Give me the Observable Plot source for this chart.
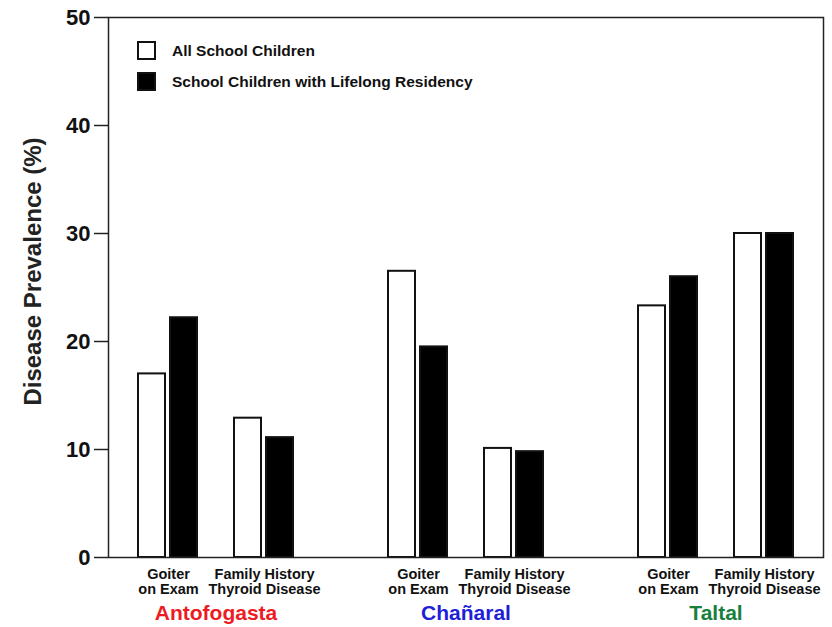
<!DOCTYPE html>
<html>
<head>
<meta charset="utf-8">
<script src="https://cdn.jsdelivr.net/npm/d3@7"></script>
<script src="https://cdn.jsdelivr.net/npm/@observablehq/plot@0.6"></script>
<style>
  html, body { margin: 0; padding: 0; background: #fff; }
  #wrap { position: relative; width: 832px; height: 627px; font-family: "Liberation Sans", Arial, sans-serif; }
  .legend { position: absolute; left: 137px; font-size: 15.5px; font-weight: bold; color: #111; }
  .legend .row { position: absolute; left: 0; height: 19px; white-space: nowrap; }
  .legend .box { position: absolute; left: 0; top: 0; width: 15px; height: 15px; border: 2px solid #111; }
  .legend .lab { position: absolute; left: 35px; top: 0; line-height: 19px; }
</style>
</head>
<body>
<div id="wrap"></div>
<script>
const regions = ["Antofogasta", "Chañaral", "Taltal"];
const regionColors = ["#ec1c24", "#1f1fd8", "#17803d"];
const measures = ["Goiter\non Exam", "Family History\nThyroid Disease"];
const seriesNames = ["All School Children", "School Children with Lifelong Residency"];
const seriesFills = ["white", "black"];
// values ordered by region, then measure (Goiter, Family History)
const allChildren = [17.0, 12.9, 26.5, 10.1, 23.3, 30.0];
const lifelong = [22.2, 11.1, 19.5, 9.8, 26.0, 30.0];
const yTicks = [0, 10, 20, 30, 40, 50];
const yTitle = "Disease Prevalence (%)";

// slot layout inside each region: two pairs separated by an empty slot
const slots = ["m0-s0", "m0-s1", "gap", "m1-s0", "m1-s1"];

const rows = [];
const labelRows = [];
regions.forEach((r, ri) => {
  measures.forEach((m, mi) => {
    const k = ri * measures.length + mi;
    [allChildren[k], lifelong[k]].forEach((v, si) => {
      rows.push({region: r, measure: m, series: si, slot: `m${mi}-s${si}`, value: v, fill: seriesFills[si]});
    });
    labelRows.push({region: r, measure: m, slot: `m${mi}-s0`});
  });
});

const chart = Plot.plot({
  width: 832,
  height: 627,
  marginLeft: 107,
  marginRight: 7,
  marginTop: 17,
  marginBottom: 70,
  style: {fontFamily: '"Liberation Sans", Arial, sans-serif', color: "#111", background: "white"},
  fx: {domain: regions, paddingInner: 0.1394, paddingOuter: 0, axis: null, label: null},
  x: {domain: slots, paddingInner: 0.09, paddingOuter: 0.8177, axis: null},
  y: {domain: [0, 50], axis: null},
  color: {type: "identity"},
  marks: [
    Plot.barY(rows, {fx: "region", x: "slot", y: "value", fill: "fill", stroke: "#111", strokeWidth: 2, insetLeft: 1, insetRight: 1}),
    Plot.frame({facet: "super", stroke: "#222", strokeWidth: 1.5}),
    Plot.axisY({ticks: yTicks, tickSize: 14, tickPadding: 4, fontSize: 22, fontWeight: "bold", label: null, stroke: "#222", strokeWidth: 1.5}),
    Plot.text([yTitle], {facet: "super", frameAnchor: "left", textAnchor: "middle", text: d => d, rotate: -90, dx: -75, dy: -16, fontSize: 24, fontWeight: "bold", fill: "#222"}),
    Plot.text(labelRows, {fx: "region", x: "slot", text: "measure", frameAnchor: "bottom", lineAnchor: "top", dx: 16.5, dy: 10, fontSize: 14.5, fontWeight: "bold", lineHeight: 1.08, fill: "#111"}),
    Plot.text(regions, {fx: d => d, text: d => d, frameAnchor: "bottom", lineAnchor: "middle", dy: 56, fontSize: 21, fontWeight: "bold", fill: (d, i) => regionColors[regions.indexOf(d)]})
  ]
});

const wrap = document.getElementById("wrap");
wrap.appendChild(chart);

const legend = document.createElement("div");
legend.className = "legend";
legend.style.top = "41px";
seriesNames.forEach((name, i) => {
  const row = document.createElement("div");
  row.className = "row";
  row.style.top = (i * 31) + "px";
  const box = document.createElement("span");
  box.className = "box";
  box.style.background = seriesFills[i];
  const lab = document.createElement("span");
  lab.className = "lab";
  lab.textContent = name;
  row.appendChild(box);
  row.appendChild(lab);
  legend.appendChild(row);
});
wrap.appendChild(legend);
</script>
</body>
</html>
